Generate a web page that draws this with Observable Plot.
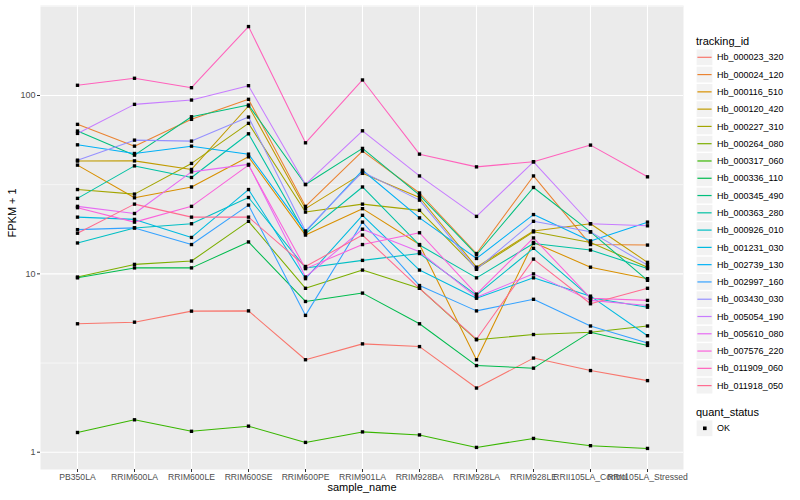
<!DOCTYPE html>
<html>
<head>
<meta charset="utf-8">
<script src="https://cdn.jsdelivr.net/npm/d3@7"></script>
<script src="https://cdn.jsdelivr.net/npm/@observablehq/plot@0.6"></script>
<style>
  html, body { margin: 0; padding: 0; background: #ffffff; }
  body { font-family: "Liberation Sans", Arial, Helvetica, sans-serif; }
  #wrap { position: relative; width: 800px; height: 500px; overflow: hidden; }
</style>
</head>
<body>
<div id="wrap"></div>
<script>
// ---- categories ----
const samples = ["PB350LA", "RRIM600LA", "RRIM600LE", "RRIM600SE", "RRIM600PE", "RRIM901LA",
  "RRIM928BA", "RRIM928LA", "RRIM928LE", "RRII105LA_Control", "RRII105LA_Stressed"];

const trackingIds = ["Hb_000023_320", "Hb_000024_120", "Hb_000116_510", "Hb_000120_420", "Hb_000227_310",
  "Hb_000264_080", "Hb_000317_060", "Hb_000336_110", "Hb_000345_490", "Hb_000363_280",
  "Hb_000926_010", "Hb_001231_030", "Hb_002739_130", "Hb_002997_160", "Hb_003430_030",
  "Hb_005054_190", "Hb_005610_080", "Hb_007576_220", "Hb_011909_060", "Hb_011918_050"];

const seriesColors = ["#F8766D", "#EA8331", "#D89000", "#C09B00", "#A3A500", "#7CAE00", "#39B600",
  "#00BB4E", "#00BF7D", "#00C1A3", "#00BFC4", "#00BAE0", "#00B0F6", "#35A2FF", "#9590FF",
  "#C77CFF", "#E76BF3", "#FA62DB", "#FF62BC", "#FF6C91"];

// ---- series values (FPKM + 1), one per sample ----
const hb_000023_320 = [5.25, 5.36, 6.18, 6.2, 3.30, 4.05, 3.91, 2.29, 3.37, 2.87, 2.52];
const hb_000024_120 = [68.9, 52.0, 73.5, 95.2, 23.9, 48.8, 28.4, 13.0, 35.4, 14.6, 14.5];
const hb_000116_510 = [40.7, 26.7, 30.7, 45.3, 16.5, 23.2, 14.6, 3.30, 15.0, 10.9, 9.4];
const hb_000120_420 = [42.9, 43.0, 38.5, 87.3, 23.2, 36.6, 26.8, 10.9, 17.4, 19.1, 11.6];
const hb_000227_310 = [29.7, 28.0, 41.6, 69.8, 22.2, 24.6, 22.7, 10.7, 17.2, 15.0, 10.9];
const hb_000264_080 = [9.6, 11.3, 11.8, 19.7, 8.3, 10.5, 8.3, 4.27, 4.57, 4.71, 5.1];
const hb_000317_060 = [1.29, 1.52, 1.31, 1.40, 1.135, 1.30, 1.25, 1.064, 1.195, 1.088, 1.05];
const hb_000336_110 = [9.5, 10.8, 10.8, 15.1, 7.0, 7.8, 5.25, 3.06, 2.96, 4.71, 3.97];
const hb_000345_490 = [63.2, 46.3, 76.0, 88.4, 31.7, 50.5, 27.6, 12.8, 30.5, 17.2, 9.2];
const hb_000363_280 = [26.5, 40.3, 34.7, 61.0, 16.8, 30.7, 14.5, 9.5, 14.8, 13.6, 10.7];
const hb_000926_010 = [14.9, 18.1, 19.1, 26.8, 10.8, 11.9, 13.0, 7.6, 13.9, 7.35, 6.5];
const hb_001231_030 = [20.8, 20.2, 16.0, 29.7, 9.4, 21.3, 10.5, 7.3, 9.5, 7.5, 4.5];
const hb_002739_130 = [52.9, 47.3, 52.0, 46.9, 17.2, 38.1, 20.6, 12.2, 21.5, 15.3, 19.5];
const hb_002997_160 = [17.7, 18.1, 14.6, 24.3, 5.85, 19.5, 8.6, 6.2, 7.2, 5.1, 4.1];
const hb_003430_030 = [43.4, 56.2, 55.5, 75.7, 17.4, 37.3, 25.9, 10.6, 19.7, 17.2, 11.2];
const hb_005054_190 = [61.3, 89.2, 94.3, 113.5, 31.7, 63.4, 35.4, 21.0, 42.5, 19.1, 18.6];
const hb_005610_080 = [23.9, 21.8, 37.3, 41.1, 9.6, 17.8, 13.3, 7.4, 10.0, 7.1, 6.65];
const hb_007576_220 = [23.5, 19.5, 23.9, 40.7, 10.7, 14.6, 17.0, 7.7, 15.9, 7.3, 7.1];
const hb_011909_060 = [114.1, 124.9, 110.6, 243.5, 54.3, 122.2, 46.9, 39.8, 42.5, 52.7, 35.0];
const hb_011918_050 = [16.9, 24.6, 20.8, 20.8, 11.0, 16.5, 8.3, 4.3, 12.1, 6.8, 8.3];

const yTicks = [1, 10, 100];
const yMinorTicks = [Math.sqrt(10), Math.sqrt(1000), Math.pow(10, 2.5)];
const xTitle = "sample_name";
const yTitle = "FPKM + 1";
const legendTitle1 = "tracking_id";
const legendTitle2 = "quant_status";
const statusLabels = ["OK"];

// ---- table built from the arrays ----
const seriesValues = [hb_000023_320, hb_000024_120, hb_000116_510, hb_000120_420, hb_000227_310,
  hb_000264_080, hb_000317_060, hb_000336_110, hb_000345_490, hb_000363_280, hb_000926_010,
  hb_001231_030, hb_002739_130, hb_002997_160, hb_003430_030, hb_005054_190, hb_005610_080,
  hb_007576_220, hb_011909_060, hb_011918_050];

const data = [];
trackingIds.forEach((id, i) => {
  seriesValues[i].forEach((v, j) => data.push({id, sample: samples[j], value: v, status: "OK"}));
});

const font = "'Liberation Sans', Arial, Helvetica, sans-serif";

const chart = Plot.plot({
  width: 800,
  height: 500,
  marginLeft: 40,
  marginRight: 117,
  marginTop: 5,
  marginBottom: 31,
  style: {fontFamily: font, fontSize: "9px", background: "#ffffff", overflow: "visible"},
  x: {type: "point", domain: samples, padding: 0.6, label: null},
  y: {type: "log", domain: [0.80, 319.6], label: null},
  color: {domain: trackingIds, range: seriesColors},
  marks: [
    Plot.frame({fill: "#EBEBEB", stroke: null}),
    Plot.gridY(yMinorTicks, {stroke: "#ffffff", strokeOpacity: 1, strokeWidth: 0.55}),
    Plot.gridY(yTicks, {stroke: "#ffffff", strokeOpacity: 1, strokeWidth: 1.1}),
    Plot.gridX(samples, {stroke: "#ffffff", strokeOpacity: 1, strokeWidth: 1.1}),
    Plot.line(data, {x: "sample", y: "value", z: "id", stroke: "id", strokeWidth: 1.05}),
    Plot.dot(data, {x: "sample", y: "value", symbol: "square", r: 1.9, fill: "#000000", stroke: null}),
    Plot.axisX({tickSize: 3, tickPadding: 1.5, fontSize: 8.6, fill: "#4D4D4D", stroke: "#333333", label: null}),
    Plot.axisY(yTicks, {tickSize: 3, tickPadding: 2, fontSize: 9, fill: "#4D4D4D", stroke: "#333333",
      tickFormat: d => String(d), label: null}),
    Plot.text([xTitle], {text: d => d, frameAnchor: "bottom", dy: 21.5, fontSize: 11, fill: "#000000"}),
    Plot.text([yTitle], {text: d => d, frameAnchor: "left", dx: -28, rotate: -90, fontSize: 11, fill: "#000000"})
  ]
});

const wrap = document.getElementById("wrap");
wrap.appendChild(chart);

// ---- legend (overlay) ----
const L = d3.select(wrap).append("svg")
  .attr("width", 800).attr("height", 500)
  .style("position", "absolute").style("left", "0px").style("top", "0px")
  .style("font-family", font);

L.append("text").attr("x", 696).attr("y", 41).attr("dy", "0.35em")
  .attr("font-size", 11).attr("fill", "#000").text(legendTitle1);

const step = 17.28;
trackingIds.forEach((id, i) => {
  const cy = 57.3 + i * step;
  L.append("rect").attr("x", 696.6).attr("y", cy - 7.9).attr("width", 15.8).attr("height", 15.8)
    .attr("fill", "#F2F2F2");
  L.append("line").attr("x1", 697.4).attr("x2", 711.6).attr("y1", cy).attr("y2", cy)
    .attr("stroke", seriesColors[i]).attr("stroke-width", 1.2);
  L.append("text").attr("x", 717).attr("y", cy).attr("dy", "0.35em")
    .attr("font-size", 9).attr("fill", "#000").text(id);
});

L.append("text").attr("x", 696).attr("y", 411.7).attr("dy", "0.35em")
  .attr("font-size", 11).attr("fill", "#000").text(legendTitle2);
statusLabels.forEach((s, i) => {
  const cy = 428.3 + i * step;
  L.append("rect").attr("x", 696.6).attr("y", cy - 7.9).attr("width", 15.8).attr("height", 15.8)
    .attr("fill", "#F2F2F2");
  L.append("rect").attr("x", 703).attr("y", cy - 1.8).attr("width", 3.6).attr("height", 3.6).attr("fill", "#000");
  L.append("text").attr("x", 717).attr("y", cy).attr("dy", "0.35em")
    .attr("font-size", 9).attr("fill", "#000").text(s);
});
</script>
</body>
</html>
